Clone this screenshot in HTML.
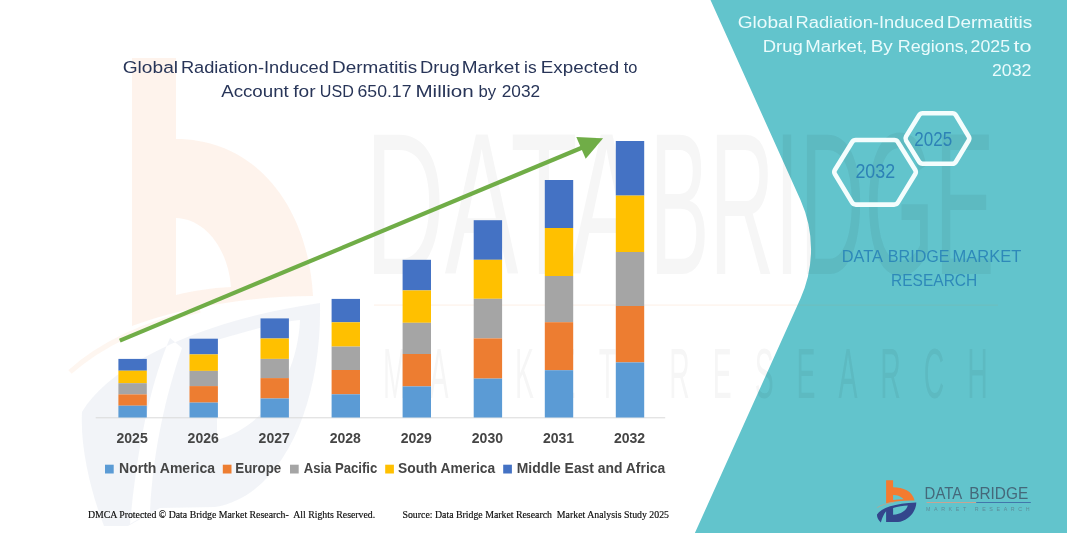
<!DOCTYPE html>
<html lang="en">
<head>
<meta charset="utf-8">
<title>Global Radiation-Induced Dermatitis Drug Market</title>
<style>
html,body{margin:0;padding:0;background:#fff;}
body{width:1067px;height:533px;overflow:hidden;position:relative;}
svg{position:absolute;left:0;top:0;display:block;}
text{font-family:"Liberation Sans",sans-serif;}
.serif{font-family:"Liberation Serif",serif;}
</style>
</head>
<body>
<svg width="1067" height="533" viewBox="0 0 1067 533">
<rect x="0" y="0" width="1067" height="533" fill="#ffffff"/>

<defs>
<g id="dbmark">
<path id="dbo" fill="#F47B30" fill-rule="evenodd" d="M886.1,480.2 L893.1,480.2 L893.1,487.3 C903,487.3 912.5,491 914.6,500.6 C905,500.2 895,501.3 886.1,503.2 Z M893.1,495 C897,495 901.5,496.5 903.6,499.3 C900,499.3 896.5,499.5 893.1,499.9 Z"/>
<path fill="none" stroke="#D89A78" stroke-width="0.8" opacity="0.75" d="M877.2,507.6 C881,505 887,503.4 894,502.3"/>
<path id="dbn" fill="#33468C" fill-rule="evenodd" d="M877,514.6 C881,508.3 895,503.2 916.3,502.6 C916.2,512 908,521 898,522 L886.1,522.1 L886.1,511.2 C883.8,514 882,518 880.9,522.4 C878.3,520.2 876.8,517.5 877,514.6 Z M893.1,507.9 C898,506.4 903,505.6 907.8,505.5 C906.5,510.5 901,514.3 893.1,514.8 Z"/>
</g>
<g id="wmt">
<text x="365" y="274" font-size="202" textLength="278" lengthAdjust="spacingAndGlyphs">DATA</text>
<text x="649.5" y="274" font-size="202" textLength="345" lengthAdjust="spacingAndGlyphs">BRIDGE</text>
<text transform="translate(383,398) scale(0.4,1)" font-size="71" textLength="1512" lengthAdjust="spacing">MARKET RESEARCH</text>
</g>
<clipPath id="tealclip"><path d="M710.5,0 L800.5,200 A120,120 0 0 1 800.5,298.4 L694.9,533 L1067,533 L1067,0 Z"/></clipPath>
</defs>
<path fill="#F47B30" opacity="0.092" fill-rule="evenodd" d="M132,58 L176,58 L176,139 C255,139 308,205 313,296 C250,296 180,308 132,326 Z M176,218 C205,219 228,248 231,287 C210,288 192,291 176,295 Z"/>
<path fill="#3A5A9C" opacity="0.068" fill-rule="evenodd" d="M82,412 C110,365 200,320 320,303 C322,400 285,495 215,507 L160,508 L128,526 L104,526 C92,495 80,450 82,412 Z M170,338 C152,380 138,440 130,524 L150,512 C153,450 166,395 182,348 Z M217,340 C250,330 280,322 300,320 C298,370 270,425 217,440 Z"/>
<path fill="none" stroke="#F47B30" stroke-width="5" opacity="0.07" d="M70,372 C100,345 140,325 200,310"/>

<use href="#wmt" fill="#000000" opacity="0.036"/>
<rect x="374" y="304.5" width="450" height="1.2" fill="#F47B30" opacity="0.1"/>
<!-- teal panel -->
<path id="teal" d="M710.5,0 L800.5,200 A120,120 0 0 1 800.5,298.4 L694.9,533 L1067,533 L1067,0 Z" fill="#62C4CC"/>

<use href="#wmt" fill="#000000" opacity="0.052" clip-path="url(#tealclip)"/>
<rect x="690" y="304.5" width="308" height="1.2" fill="#F47B30" opacity="0.08" clip-path="url(#tealclip)"/>

<!-- axis -->
<rect x="95.7" y="417.3" width="569.5" height="1" fill="#D9D9D9"/>

<!-- bars -->
<g id="bars">
<rect x="118.4" y="358.9" width="28.4" height="11.8" fill="#4472C4"/>
<rect x="118.4" y="370.7" width="28.4" height="12.5" fill="#FFC000"/>
<rect x="118.4" y="383.2" width="28.4" height="11.2" fill="#A5A5A5"/>
<rect x="118.4" y="394.4" width="28.4" height="11.3" fill="#ED7D31"/>
<rect x="118.4" y="405.7" width="28.4" height="11.8" fill="#5B9BD5"/>
<rect x="189.5" y="338.7" width="28.4" height="15.7" fill="#4472C4"/>
<rect x="189.5" y="354.4" width="28.4" height="16.5" fill="#FFC000"/>
<rect x="189.5" y="370.9" width="28.4" height="15.2" fill="#A5A5A5"/>
<rect x="189.5" y="386.1" width="28.4" height="16.5" fill="#ED7D31"/>
<rect x="189.5" y="402.6" width="28.4" height="14.9" fill="#5B9BD5"/>
<rect x="260.5" y="318.4" width="28.4" height="20.1" fill="#4472C4"/>
<rect x="260.5" y="338.5" width="28.4" height="20.4" fill="#FFC000"/>
<rect x="260.5" y="358.9" width="28.4" height="19.2" fill="#A5A5A5"/>
<rect x="260.5" y="378.1" width="28.4" height="20.4" fill="#ED7D31"/>
<rect x="260.5" y="398.5" width="28.4" height="19.0" fill="#5B9BD5"/>
<rect x="331.6" y="298.9" width="28.4" height="23.4" fill="#4472C4"/>
<rect x="331.6" y="322.3" width="28.4" height="24.3" fill="#FFC000"/>
<rect x="331.6" y="346.6" width="28.4" height="23.4" fill="#A5A5A5"/>
<rect x="331.6" y="370.0" width="28.4" height="24.3" fill="#ED7D31"/>
<rect x="331.6" y="394.3" width="28.4" height="23.2" fill="#5B9BD5"/>
<rect x="402.6" y="259.8" width="28.4" height="30.6" fill="#4472C4"/>
<rect x="402.6" y="290.4" width="28.4" height="32.4" fill="#FFC000"/>
<rect x="402.6" y="322.8" width="28.4" height="31.2" fill="#A5A5A5"/>
<rect x="402.6" y="354.0" width="28.4" height="32.4" fill="#ED7D31"/>
<rect x="402.6" y="386.4" width="28.4" height="31.1" fill="#5B9BD5"/>
<rect x="473.7" y="220.2" width="28.4" height="39.6" fill="#4472C4"/>
<rect x="473.7" y="259.8" width="28.4" height="39.0" fill="#FFC000"/>
<rect x="473.7" y="298.8" width="28.4" height="39.6" fill="#A5A5A5"/>
<rect x="473.7" y="338.4" width="28.4" height="40.2" fill="#ED7D31"/>
<rect x="473.7" y="378.6" width="28.4" height="38.9" fill="#5B9BD5"/>
<rect x="544.8" y="180.0" width="28.4" height="48.0" fill="#4472C4"/>
<rect x="544.8" y="228.0" width="28.4" height="48.0" fill="#FFC000"/>
<rect x="544.8" y="276.0" width="28.4" height="46.2" fill="#A5A5A5"/>
<rect x="544.8" y="322.2" width="28.4" height="48.0" fill="#ED7D31"/>
<rect x="544.8" y="370.2" width="28.4" height="47.3" fill="#5B9BD5"/>
<rect x="615.8" y="141.0" width="28.4" height="54.6" fill="#4472C4"/>
<rect x="615.8" y="195.6" width="28.4" height="56.4" fill="#FFC000"/>
<rect x="615.8" y="252.0" width="28.4" height="54.0" fill="#A5A5A5"/>
<rect x="615.8" y="306.0" width="28.4" height="56.4" fill="#ED7D31"/>
<rect x="615.8" y="362.4" width="28.4" height="55.1" fill="#5B9BD5"/>
</g>

<g id="arrow">
<line x1="119.8" y1="340.6" x2="583" y2="147.2" stroke="#70AD47" stroke-width="4.2"/>
<polygon points="603.1,138.3 576.3,137.1 585.7,158.8" fill="#70AD47"/>
</g>

<g id="left-text">
<g id="title" font-size="17.1" fill="#283558">
<text x="122.7" y="72.9" textLength="55.4" lengthAdjust="spacingAndGlyphs">Global</text>
<text x="180.9" y="72.9" textLength="147.9" lengthAdjust="spacingAndGlyphs">Radiation-Induced</text>
<text x="332.1" y="72.9" textLength="85.2" lengthAdjust="spacingAndGlyphs">Dermatitis</text>
<text x="419.9" y="72.9" textLength="39.8" lengthAdjust="spacingAndGlyphs">Drug</text>
<text x="461.7" y="72.9" textLength="58.0" lengthAdjust="spacingAndGlyphs">Market</text>
<text x="524.1" y="72.9" textLength="12.6" lengthAdjust="spacingAndGlyphs">is</text>
<text x="540.8" y="72.9" textLength="78.4" lengthAdjust="spacingAndGlyphs">Expected</text>
<text x="623.8" y="72.9" textLength="13.7" lengthAdjust="spacingAndGlyphs">to</text>
<text x="221.2" y="96.6" textLength="67.6" lengthAdjust="spacingAndGlyphs">Account</text>
<text x="293.3" y="96.6" textLength="22.3" lengthAdjust="spacingAndGlyphs">for</text>
<text x="319.8" y="96.6" textLength="34.0" lengthAdjust="spacingAndGlyphs">USD</text>
<text x="357.5" y="96.6" textLength="54.0" lengthAdjust="spacingAndGlyphs">650.17</text>
<text x="415.4" y="96.6" textLength="58.4" lengthAdjust="spacingAndGlyphs">Million</text>
<text x="478.4" y="96.6" textLength="17.7" lengthAdjust="spacingAndGlyphs">by</text>
<text x="501.7" y="96.6" textLength="38.4" lengthAdjust="spacingAndGlyphs">2032</text>
</g>
<g font-size="14.2" font-weight="bold" fill="#454545">
<text x="116.5" y="443.1" textLength="31.2" lengthAdjust="spacingAndGlyphs">2025</text>
<text x="187.6" y="443.1" textLength="31.2" lengthAdjust="spacingAndGlyphs">2026</text>
<text x="258.6" y="443.1" textLength="31.2" lengthAdjust="spacingAndGlyphs">2027</text>
<text x="329.7" y="443.1" textLength="31.2" lengthAdjust="spacingAndGlyphs">2028</text>
<text x="400.7" y="443.1" textLength="31.2" lengthAdjust="spacingAndGlyphs">2029</text>
<text x="471.8" y="443.1" textLength="31.2" lengthAdjust="spacingAndGlyphs">2030</text>
<text x="542.9" y="443.1" textLength="31.2" lengthAdjust="spacingAndGlyphs">2031</text>
<text x="613.9" y="443.1" textLength="31.2" lengthAdjust="spacingAndGlyphs">2032</text>
</g>
<g id="legend" font-size="14" font-weight="bold" fill="#454545">
<rect x="105.0" y="464.7" width="8.7" height="8.8" fill="#5B9BD5"/>
<text x="119" y="472.9" textLength="96.1" lengthAdjust="spacingAndGlyphs">North America</text>
<rect x="222.8" y="464.7" width="8.7" height="8.8" fill="#ED7D31"/>
<text x="235.3" y="472.9" textLength="45.9" lengthAdjust="spacingAndGlyphs">Europe</text>
<rect x="290.0" y="464.7" width="8.7" height="8.8" fill="#A5A5A5"/>
<text x="303.7" y="472.9" textLength="73.6" lengthAdjust="spacingAndGlyphs">Asia Pacific</text>
<rect x="385.2" y="464.7" width="8.7" height="8.8" fill="#FFC000"/>
<text x="398.1" y="472.9" textLength="97" lengthAdjust="spacingAndGlyphs">South America</text>
<rect x="503.2" y="464.7" width="8.7" height="8.8" fill="#4472C4"/>
<text x="516.8" y="472.9" textLength="148.4" lengthAdjust="spacingAndGlyphs">Middle East and Africa</text>
</g>
<g class="serif" font-size="9.5" fill="#0a0a0a" stroke="#0a0a0a" stroke-width="0.15">
<text class="serif" xml:space="preserve" x="87.9" y="518.3" textLength="287.3" lengthAdjust="spacingAndGlyphs">DMCA Protected © Data Bridge Market Research-  All Rights Reserved.</text>
<text class="serif" xml:space="preserve" x="402.5" y="518.3" textLength="266.5" lengthAdjust="spacingAndGlyphs">Source: Data Bridge Market Research  Market Analysis Study 2025</text>
</g>
</g>

<g id="right-text">
<g id="rtitle" font-size="17.3" fill="#EAFBFC">
<text x="737.7" y="27.6" textLength="55.2" lengthAdjust="spacingAndGlyphs">Global</text>
<text x="795.5" y="27.6" textLength="148.6" lengthAdjust="spacingAndGlyphs">Radiation-Induced</text>
<text x="946.7" y="27.6" textLength="85.5" lengthAdjust="spacingAndGlyphs">Dermatitis</text>
<text x="762.7" y="51.6" textLength="40.1" lengthAdjust="spacingAndGlyphs">Drug</text>
<text x="805.3" y="51.6" textLength="62.0" lengthAdjust="spacingAndGlyphs">Market,</text>
<text x="870.7" y="51.6" textLength="22.0" lengthAdjust="spacingAndGlyphs">By</text>
<text x="897.8" y="51.6" textLength="70.8" lengthAdjust="spacingAndGlyphs">Regions,</text>
<text x="970.6" y="51.6" textLength="39.4" lengthAdjust="spacingAndGlyphs">2025</text>
<text x="1013.6" y="51.6" textLength="18.0" lengthAdjust="spacingAndGlyphs">to</text>
<text x="991.9" y="75.9" textLength="39.5" lengthAdjust="spacingAndGlyphs">2032</text>
</g>
<g id="mid" font-size="17" fill="#2E89B9">
<text x="841.8" y="262.4" textLength="41.2" lengthAdjust="spacingAndGlyphs">DATA</text>
<text x="887.8" y="262.4" textLength="61.8" lengthAdjust="spacingAndGlyphs">BRIDGE</text>
<text x="952.5" y="262.4" textLength="68.7" lengthAdjust="spacingAndGlyphs">MARKET</text>
<text x="891.0" y="286.1" textLength="86.3" lengthAdjust="spacingAndGlyphs">RESEARCH</text>
</g>
</g>

<g id="hexagons" fill="none" stroke="#F4FDFD" stroke-width="4.6" stroke-linejoin="round">
<path d="M835.0,174.3 Q833.6,172.0 835.0,169.7 L852.0,142.2 Q853.3,140.0 855.8,140.0 L894.2,140.0 Q896.7,140.0 898.0,142.2 L915.1,169.7 Q916.5,172.0 915.1,174.3 L898.0,202.4 Q896.7,204.6 894.1,204.6 L855.9,204.6 Q853.3,204.6 852.0,202.4 Z"/>
<path d="M906.1,140.6 Q904.9,138.5 906.1,136.4 L919.1,115.2 Q920.3,113.3 922.6,113.3 L952.4,113.3 Q954.7,113.3 955.9,115.3 L968.7,136.5 Q969.9,138.5 968.7,140.5 L955.9,161.7 Q954.7,163.7 952.4,163.7 L922.6,163.7 Q920.3,163.7 919.1,161.8 Z"/>
</g>
<g font-size="19.6" fill="#2D82B6">
<text x="855.4" y="177.9" textLength="39.7" lengthAdjust="spacingAndGlyphs">2032</text>
<text x="914.3" y="146.2" textLength="37.9" lengthAdjust="spacingAndGlyphs">2025</text>
</g>

<g id="logo">
<use href="#dbmark"/>
<g font-size="16.8" fill="#45687A">
<text x="924.6" y="498.9" textLength="37.6" lengthAdjust="spacingAndGlyphs">DATA</text>
<text x="969.2" y="498.9" textLength="59" lengthAdjust="spacingAndGlyphs">BRIDGE</text>
</g>
<rect x="926.6" y="502" width="49.6" height="0.9" fill="#D3A28E"/>
<rect x="976.2" y="502" width="54.6" height="0.9" fill="#3E6FA8"/>
<text x="926" y="511.3" font-size="5.3" fill="#5C8D9B" textLength="103.5" lengthAdjust="spacing">MARKET RESEARCH</text>
</g>

</svg>
</body>
</html>
